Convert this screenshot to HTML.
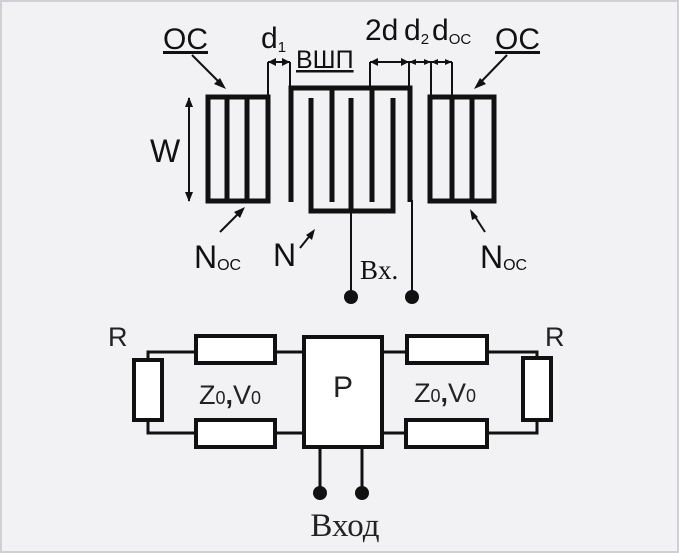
<!DOCTYPE html><html><head><style>body{margin:0;background:#fff}svg{display:block}</style></head><body>
<svg width="679" height="553" viewBox="0 0 679 553" xmlns="http://www.w3.org/2000/svg" font-family="Liberation Sans, sans-serif">
<rect x="1" y="1" width="677" height="551" fill="#f2f2f4" stroke="#cfcfd4" stroke-width="2"/>
<g fill="none" stroke="#111" stroke-width="5">
<rect x="208" y="97" width="60" height="104"/>
<line x1="227" y1="97" x2="227" y2="201"/><line x1="247" y1="97" x2="247" y2="201"/>
<rect x="430" y="97" width="64" height="104"/>
<line x1="452" y1="97" x2="452" y2="201"/><line x1="472" y1="97" x2="472" y2="201"/>
<polyline points="291,202 291,88 410,88 410,202"/>
<line x1="332" y1="88" x2="332" y2="202"/><line x1="372" y1="88" x2="372" y2="202"/>
<polyline points="311,98 311,211 393,211 393,98"/>
<line x1="351" y1="98" x2="351" y2="211"/>
</g>
<g stroke="#111" stroke-width="2" fill="none">
<line x1="351" y1="211" x2="351" y2="297"/><line x1="412" y1="200" x2="412" y2="297"/>
<line x1="189" y1="98" x2="189" y2="201"/>
<line x1="268" y1="62" x2="268" y2="97"/><line x1="290" y1="62" x2="290" y2="87"/>
<line x1="370" y1="62" x2="370" y2="87"/><line x1="409" y1="62" x2="409" y2="87"/>
<line x1="431" y1="62" x2="431" y2="97"/><line x1="452" y1="62" x2="452" y2="97"/>
<line x1="268" y1="62" x2="290" y2="62"/><line x1="370" y1="62" x2="409" y2="62"/>
<line x1="409" y1="62" x2="452" y2="62"/>
<line x1="192" y1="55" x2="222" y2="85"/><line x1="507" y1="55" x2="478" y2="85"/>
<line x1="220" y1="232" x2="242" y2="210"/><line x1="300" y1="248" x2="312" y2="233"/>
<line x1="485" y1="232" x2="472" y2="212"/>
</g>
<g fill="#111">
<polygon points="189,97 185,107 193,107"/><polygon points="189,202 185,192 193,192"/>
<polygon points="268,62 276,58 276,66"/><polygon points="290,62 282,58 282,66"/>
<polygon points="370,62 378,58 378,66"/><polygon points="409,62 401,58 401,66"/>
<polygon points="409,62 416,59 416,65"/><polygon points="431,62 424,59 424,65"/>
<polygon points="431,62 438,59 438,65"/><polygon points="452,62 445,59 445,65"/>
<polygon points="226,89 214,84 220,78"/><polygon points="474,89 480,78 486,84"/>
<polygon points="245,207 240,218 234,212"/><polygon points="315,229 312,240 306,235"/>
<polygon points="470,209 478,217 472,220"/>
<circle cx="351" cy="297" r="7"/><circle cx="412" cy="297" r="7"/>
<circle cx="320" cy="493" r="7"/><circle cx="362" cy="493" r="7"/>
</g>
<g fill="#111" font-size="30">
<text x="163" y="49" text-decoration="underline">OC</text>
<text x="495" y="49" text-decoration="underline">OC</text>
<text x="261" y="48">d<tspan font-size="15" dy="4">1</tspan></text>
<text x="296" y="68" font-size="25" text-decoration="underline">ВШП</text>
<text x="365" y="40">2d</text>
<text x="404" y="40">d<tspan font-size="15" dy="4">2</tspan></text>
<text x="432" y="40">d<tspan font-size="15" dy="4">OC</tspan></text>
<text x="150" y="162" font-size="32">W</text>
<text x="194" y="268" font-size="32">N<tspan font-size="16" dy="2">OC</tspan></text>
<text x="273" y="266" font-size="32">N</text>
<text x="480" y="268" font-size="32">N<tspan font-size="16" dy="2">OC</tspan></text>
<text x="360" y="279" font-family="Liberation Serif, serif" font-size="27">Bx.</text>
</g>
<g fill="#fff" stroke="#111" stroke-width="4">
<rect x="134" y="360" width="28" height="60"/>
<rect x="523" y="358" width="28" height="62"/>
<rect x="196" y="336" width="79" height="27"/>
<rect x="196" y="420" width="79" height="27"/>
<rect x="407" y="336" width="80" height="27"/>
<rect x="406" y="420" width="81" height="27"/>
<rect x="304" y="337" width="78" height="110"/>
</g>
<g stroke="#111" stroke-width="3" fill="none">
<polyline points="148,360 148,352 196,352"/><polyline points="148,420 148,433 196,433"/>
<line x1="275" y1="352" x2="304" y2="352"/><line x1="275" y1="433" x2="304" y2="433"/>
<line x1="382" y1="352" x2="407" y2="352"/><line x1="382" y1="433" x2="406" y2="433"/>
<polyline points="487,352 537,352 537,358"/><polyline points="487,433 537,433 537,420"/>
<line x1="320" y1="447" x2="320" y2="493"/><line x1="362" y1="447" x2="362" y2="493"/>
</g>
<g fill="#222" font-size="27">
<text x="108" y="346">R</text><text x="545" y="346">R</text>
<text x="333" y="397" font-size="30">P</text>
<text x="199" y="404">Z<tspan font-size="18">0</tspan><tspan font-weight="bold">,</tspan>V<tspan font-size="18">0</tspan></text>
<text x="414" y="402">Z<tspan font-size="18">0</tspan><tspan font-weight="bold">,</tspan>V<tspan font-size="18">0</tspan></text>
<text x="345" y="536" text-anchor="middle" font-family="Liberation Serif, serif" font-size="33">Вход</text>
</g>
</svg></body></html>
